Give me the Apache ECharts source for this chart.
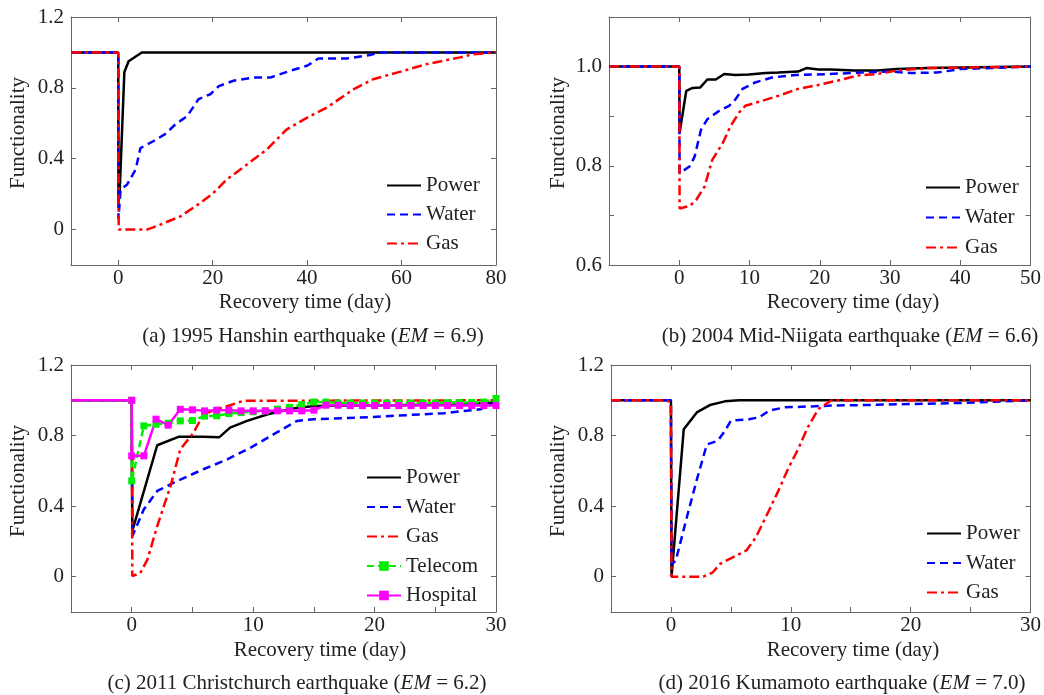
<!DOCTYPE html>
<html>
<head>
<meta charset="utf-8">
<script src="https://cdn.jsdelivr.net/npm/echarts@6/dist/echarts.min.js"></script>
<style>html,body{margin:0;padding:0;background:#fff}#c{width:1044px;height:695px}</style>
</head>
<body>
<div id="c"></div>
<script>
// ---------- DATA ----------
// (a) 1995 Hanshin
const hanshinPower = [[-10,1],[0,1],[0.05,0.15],[0.3,0.21],[1.3,0.89],[2.2,0.95],[5,1],[80,1]];
const hanshinWater = [[-10,1],[0,1],[0.05,0.06],[0.5,0.226],[1.9,0.255],[3.7,0.34],[4.7,0.46],[7.5,0.5],[10,0.54],[12.1,0.594],[14.6,0.64],[17,0.736],[19.5,0.764],[21.3,0.81],[24.4,0.84],[28.7,0.858],[32.2,0.858],[36.4,0.896],[40,0.925],[42.4,0.966],[48.4,0.966],[53.3,0.985],[55.5,1],[80,1]];
const hanshinGas = [[-10,1],[0,1],[0.1,0],[6.1,0],[8.9,0.028],[13.2,0.075],[17.4,0.15],[20.2,0.208],[23,0.283],[27.3,0.368],[31.5,0.453],[35.7,0.566],[40,0.632],[44.2,0.689],[49.8,0.792],[54,0.849],[60.4,0.896],[65.3,0.934],[72.4,0.972],[75.2,0.99],[80,1]];
// (b) 2004 Mid-Niigata
const niigataPower = [[-10,1],[0,1],[0.05,0.866],[1,0.951],[1.9,0.957],[3,0.958],[4,0.974],[5.2,0.974],[6.4,0.985],[8,0.983],[9.9,0.984],[12.3,0.987],[14.1,0.988],[16.9,0.99],[18.1,0.997],[19.8,0.994],[21.6,0.994],[24.9,0.992],[28.2,0.992],[31,0.995],[35.3,0.997],[50,1]];
const niigataWater = [[-10,1],[0,1],[0.05,0.785],[1.5,0.799],[2.2,0.819],[3.1,0.873],[4,0.894],[5.7,0.911],[7.1,0.921],[8,0.934],[9,0.955],[10.8,0.968],[13.2,0.978],[16.5,0.983],[21.2,0.985],[25.9,0.988],[30.1,0.99],[32.9,0.987],[36.7,0.988],[40,0.995],[50,1]];
const niigataGas = [[-10,1],[0,1],[0.05,0.714],[1.5,0.719],[2.4,0.731],[3.6,0.758],[4.7,0.812],[6.2,0.846],[7.3,0.88],[8.5,0.907],[9.4,0.921],[11.8,0.931],[14.1,0.941],[16.9,0.955],[19.8,0.963],[22.6,0.972],[25.4,0.982],[28.2,0.985],[31,0.992],[35.3,0.997],[50,1]];
// (c) 2011 Christchurch
const chchPower = [[-5,1],[0,1],[0.05,0.26],[2.1,0.745],[3.9,0.794],[5.9,0.794],[7.2,0.79],[8.1,0.845],[9.5,0.883],[11.2,0.921],[13.3,0.953],[15,0.968],[21.6,0.972],[27,0.978],[30,0.987]];
const chchWater = [[-5,1],[0,1],[0.05,0.23],[1,0.382],[2.1,0.486],[3.75,0.543],[5.9,0.609],[7.9,0.666],[9.8,0.732],[11.7,0.808],[13.6,0.883],[15,0.893],[18.8,0.902],[21.6,0.912],[25.7,0.927],[28.7,0.949],[30,0.987]];
const chchGas = [[-5,1],[0,1],[0.05,0.004],[0.7,0.02],[1.3,0.098],[2.1,0.287],[3.2,0.514],[4,0.722],[5.1,0.817],[5.9,0.921],[7,0.949],[8.1,0.972],[9.2,0.997],[30,1]];
const chchTelecom = [[-5,1],[0,1],[0,0.543],[1,0.855],[2,0.864],[3,0.87],[4,0.883],[5,0.885],[6,0.91],[7,0.912],[8,0.925],[9,0.93],[10,0.935],[11,0.94],[12,0.95],[13,0.96],[14,0.975],[15,0.99],[16,0.99],[17,0.985],[18,0.985],[19,0.985],[20,0.985],[21,0.985],[22,0.985],[23,0.985],[24,0.985],[25,0.985],[26,0.986],[27,0.987],[28,0.988],[29,0.99],[30,1.01]];
const chchHospital = [[-5,1],[0,1],[0,0.685],[1,0.685],[2,0.893],[3,0.859],[4,0.949],[5,0.946],[6,0.94],[7,0.944],[8,0.944],[9,0.94],[10,0.94],[11,0.94],[12,0.94],[13,0.94],[14,0.94],[15,0.944],[16,0.972],[17,0.972],[18,0.97],[19,0.97],[20,0.97],[21,0.97],[22,0.97],[23,0.97],[24,0.97],[25,0.97],[26,0.97],[27,0.97],[28,0.97],[29,0.97],[30,0.97]];
// (d) 2016 Kumamoto
const kumaPower = [[-5,1],[0,1],[0.05,0],[0.15,0],[1.07,0.836],[2.16,0.931],[3.25,0.973],[4.5,0.994],[5.7,1],[30,1]];
const kumaWater = [[-5,1],[0,1],[0.05,0.07],[0.4,0.09],[1.34,0.34],[2.16,0.55],[3,0.75],[3.9,0.77],[4.5,0.826],[5,0.884],[6.5,0.893],[7.35,0.903],[8.2,0.941],[9.5,0.96],[12,0.966],[13.4,0.97],[16.1,0.973],[20.2,0.979],[24.3,0.985],[30,1]];
const kumaGas = [[-5,1],[-0.3,1],[0,0.98],[0.05,0],[2.7,0],[3.5,0.025],[4.1,0.073],[5.2,0.111],[6.3,0.149],[7.1,0.225],[8.2,0.378],[9,0.492],[9.8,0.616],[10.6,0.721],[11.4,0.845],[12.3,0.95],[13.4,1],[30,1]];

// tick / label values
const xLabelsA = [0,20,40,60,80], xTicksA = [0,20,40,60];
const xLabelsB = [0,10,20,30,40,50], xTicksB = [0,10,20,30,40];
const xLabelsCD = [0,10,20,30], xTicksCD = [0,5,10,15,20,25];
const yLabelsACD = [0,0.4,0.8,1.2], yTicksACD = [0,0.4,0.8];
const yLabelsB = [0.6,0.8,1.0], yTicksB = [0.7,0.8,0.9,1.0];

const captions = [
  '(a) 1995 Hanshin earthquake ({i|EM} = 6.9)',
  '(b) 2004 Mid-Niigata earthquake ({i|EM} = 6.6)',
  '(c) 2011 Christchurch earthquake ({i|EM} = 6.2)',
  '(d) 2016 Kumamoto earthquake ({i|EM} = 7.0)'
];

// ---------- CHART ----------
const FONT = 'Liberation Serif';
const FS = 21;
const TXT = '#222';
const AX = '#666';
const chart = echarts.init(document.getElementById('c'), null, {renderer:'canvas'});

const grids = [
  {left:71, top:17, width:425, height:248},
  {left:609, top:17, width:425, height:248},
  {left:71, top:365, width:425, height:247},
  {left:611, top:365, width:425, height:247}
];
const xR = [[-10,80],[-10,50],[-5,30],[-5,30]];
const yR = [[-0.2,1.2],[0.6,1.1],[-0.2,1.2],[-0.2,1.2]];
const xL = [xLabelsA, xLabelsB, xLabelsCD, xLabelsCD];
const xT = [xTicksA, xTicksB, xTicksCD, xTicksCD];
const yL = [yLabelsACD, yLabelsB, yLabelsACD, yLabelsACD];
const yT = [yTicksACD, yTicksB, yTicksACD, yTicksACD];

const xAxes = [], yAxes = [];
function yfmt(v){ return Math.abs(v) < 1e-9 ? '0' : v.toFixed(1); }
for (let g = 0; g < 4; g++) {
  ['bottom','top'].forEach((pos, k) => {
    xAxes.push({
      type:'value', gridIndex:g, position:pos, min:xR[g][0], max:xR[g][1],
      axisLine:{show:true, onZero:false, lineStyle:{color:AX, width:1}},
      axisTick:{show:true, inside:true, length:5, customValues:xT[g], lineStyle:{color:AX, width:1}},
      axisLabel:{show:k===0, customValues:xL[g], margin:3, fontSize:FS, fontFamily:FONT, color:TXT},
      splitLine:{show:false}
    });
  });
  ['left','right'].forEach((pos, k) => {
    yAxes.push({
      type:'value', gridIndex:g, position:pos, min:yR[g][0], max:yR[g][1],
      axisLine:{show:true, onZero:false, lineStyle:{color:AX, width:1}},
      axisTick:{show:true, inside:true, length:5, customValues:yT[g], lineStyle:{color:AX, width:1}},
      axisLabel:{show:k===0, customValues:yL[g], margin:7, fontSize:FS, fontFamily:FONT, color:TXT, formatter:yfmt},
      splitLine:{show:false}
    });
  });
}

const styles = {
  Power:{color:'#000000', type:'solid'},
  Water:{color:'#0000ff', type:[8,5]},
  Gas:{color:'#ff0000', type:[10,4,3,4]},
  Telecom:{color:'#00ee00', type:[7,4]},
  Hospital:{color:'#ff00ff', type:'solid'}
};
function mk(name, data, g){
  const s = styles[name];
  const marker = (name === 'Telecom' || name === 'Hospital');
  return {
    type:'line', name:name, xAxisIndex:g*2, yAxisIndex:g*2,
    data: data.map((p, i) => (marker && i === 0) ? {value:p, symbol:'none'} : p),
    symbol: marker ? 'rect' : 'none', symbolSize: 7, showSymbol: marker,
    itemStyle:{color:s.color},
    lineStyle:{color:s.color, width:2.5, type:s.type},
    animation:false, silent:true, clip:true
  };
}
const series = [
  mk('Power', hanshinPower, 0), mk('Water', hanshinWater, 0), mk('Gas', hanshinGas, 0),
  mk('Power', niigataPower, 1), mk('Water', niigataWater, 1), mk('Gas', niigataGas, 1),
  mk('Power', chchPower, 2), mk('Water', chchWater, 2), mk('Gas', chchGas, 2),
  mk('Telecom', chchTelecom, 2), mk('Hospital', chchHospital, 2),
  mk('Power', kumaPower, 3), mk('Water', kumaWater, 3), mk('Gas', kumaGas, 3)
];

function legend(left, top, gap, names){
  return {
    orient:'vertical', left:left, top:top, itemGap:gap, itemWidth:34, itemHeight:12,
    data:names.map(n => (n === 'Telecom' || n === 'Hospital') ? {name:n} : {name:n, itemStyle:{opacity:0}}),
    selectedMode:false, padding:0,
    textStyle:{fontSize:FS, fontFamily:FONT, color:TXT, lineHeight:20}
  };
}
const legends = [
  legend(386, 175, 8, ['Power','Water','Gas']),
  legend(925, 177, 9, ['Power','Water','Gas']),
  legend(366, 467, 8.5, ['Power','Water','Gas','Telecom','Hospital']),
  legend(926, 523, 8.5, ['Power','Water','Gas'])
];

const graphics = [];
const funcPos = [[18,133],[558,133],[18,481],[558,481]];
funcPos.forEach(p => graphics.push({
  type:'text', x:p[0], y:p[1], rotation:Math.PI/2, silent:true,
  style:{text:'Functionality', font:FS+'px "'+FONT+'"', fill:TXT, align:'center', verticalAlign:'middle'}
}));
const titlePos = [[305,302],[853,302],[320,650],[853,650]];
titlePos.forEach(p => graphics.push({
  type:'text', x:p[0], y:p[1], silent:true,
  style:{text:'Recovery time (day)', font:FS+'px "'+FONT+'"', fill:TXT, align:'center', verticalAlign:'middle'}
}));
const capPos = [[313,336],[850,336],[297,683],[842,683]];
capPos.forEach((p, i) => graphics.push({
  type:'text', x:p[0], y:p[1], silent:true,
  style:{text:captions[i], font:FS+'px "'+FONT+'"', fill:TXT, align:'center', verticalAlign:'middle',
    rich:{i:{fontStyle:'italic', fontSize:FS, fontFamily:FONT, fill:TXT}}}
}));

chart.setOption({
  animation:false,
  grid:grids,
  xAxis:xAxes,
  yAxis:yAxes,
  legend:legends,
  series:series,
  graphic:graphics
});
</script>
</body>
</html>
